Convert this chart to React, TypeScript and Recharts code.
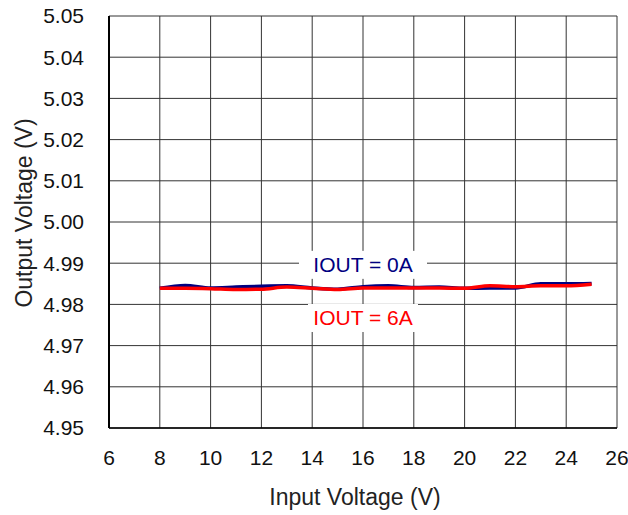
import { LineChart, Line, XAxis, YAxis, CartesianGrid, ReferenceDot } from 'recharts';

// input voltage (V)
const vin = [8, 9, 10, 11, 12, 13, 14, 15, 16, 17, 18, 19, 20, 21, 22, 23, 24, 25];
// output voltage at IOUT = 0A
const vout0A = [4.9839, 4.9846, 4.984, 4.9842, 4.9844, 4.9845, 4.984, 4.9837, 4.9843, 4.9845, 4.9841, 4.9842, 4.9839, 4.984, 4.984, 4.985, 4.985, 4.9851];
// output voltage at IOUT = 6A
const vout6A = [4.9839, 4.9839, 4.9838, 4.9836, 4.9837, 4.9842, 4.9839, 4.9836, 4.984, 4.984, 4.984, 4.984, 4.9839, 4.9845, 4.9843, 4.9845, 4.9845, 4.9849];

const xTicks = [6, 8, 10, 12, 14, 16, 18, 20, 22, 24, 26];
const yTicks = [4.95, 4.96, 4.97, 4.98, 4.99, 5.0, 5.01, 5.02, 5.03, 5.04, 5.05];

const FONT = '"Liberation Sans", Arial, sans-serif';

const data = vin.map((v, i) => ({ vin: v, i0: vout0A[i], i6: vout6A[i] }));

// boxed text label drawn over the grid
const boxLabel = (text: string, color: string, w: number) => (props: any) => {
    const { x, y } = props.viewBox;
    return (
        <g>
            <rect x={x - w / 2} y={y - 14} width={w} height={28} fill="#fff" />
            <text x={x} y={y} textAnchor="middle" dominantBaseline="central" fill={color} fontSize={21} fontFamily={FONT}>
                {text}
            </text>
        </g>
    );
};

const xTitle = (props: any) => {
    const { x, width } = props.viewBox;
    return (
        <text x={x + width / 2 - 8} y={505} textAnchor="middle" fill="#222" fontSize={23} fontFamily={FONT}>
            Input Voltage (V)
        </text>
    );
};

const yTitle = (props: any) => {
    const { y, height } = props.viewBox;
    const cy = y + height / 2 - 9;
    return (
        <text x={24} y={cy} transform={`rotate(-90, 24, ${cy})`} textAnchor="middle" dominantBaseline="central" fill="#222" fontSize={23} fontFamily={FONT}>
            Output Voltage (V)
        </text>
    );
};

export default function App() {
    return (
        <div style={{ position: 'absolute', left: 0, top: 0, background: '#fff' }}>
            <LineChart width={628} height={515} data={data} margin={{ top: 16, right: 11, left: 0, bottom: 0 }}>
                <CartesianGrid stroke="#333" strokeWidth={1} />
                <XAxis
                    dataKey="vin"
                    type="number"
                    domain={[6, 26]}
                    ticks={xTicks}
                    height={87}
                    tickLine={false}
                    tickSize={0}
                    tickMargin={22}
                    axisLine={{ stroke: '#000', strokeWidth: 1.5 }}
                    tick={{ fill: '#111', fontSize: 21, fontFamily: FONT }}
                    label={xTitle}
                />
                <YAxis
                    type="number"
                    domain={[4.95, 5.05]}
                    ticks={yTicks}
                    width={109}
                    tickLine={false}
                    tickSize={0}
                    tickMargin={25}
                    tickFormatter={(v: number) => v.toFixed(2)}
                    axisLine={{ stroke: '#000', strokeWidth: 2 }}
                    tick={{ fill: '#111', fontSize: 21, fontFamily: FONT }}
                    label={yTitle}
                />
                <ReferenceDot x={16} y={4.9896} r={0} fill="none" stroke="none" label={boxLabel('IOUT = 0A', '#000080', 128)} />
                <ReferenceDot x={16} y={4.9767} r={0} fill="none" stroke="none" label={boxLabel('IOUT = 6A', '#ff0000', 110)} />
                <Line dataKey="i0" type="monotone" stroke="#000080" strokeWidth={3.5} dot={false} isAnimationActive={false} />
                <Line dataKey="i6" type="monotone" stroke="#ff0000" strokeWidth={3.5} dot={false} isAnimationActive={false} />
            </LineChart>
        </div>
    );
}
